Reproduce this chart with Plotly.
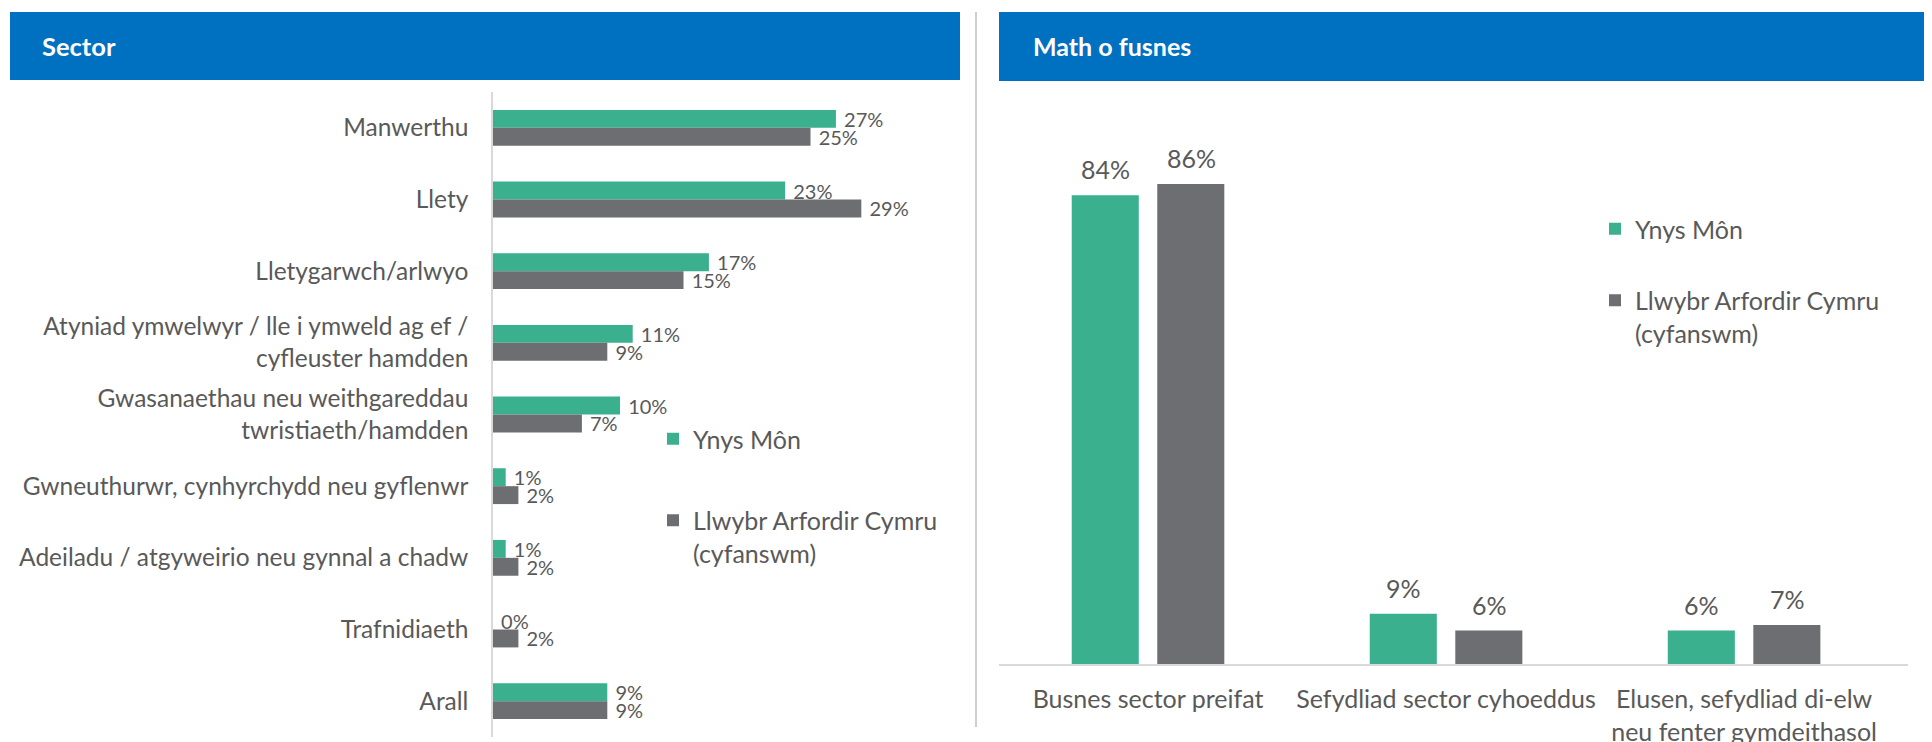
import plotly.graph_objects as go

# ---------------- data ----------------
sector_labels = [
    "Manwerthu",
    "Llety",
    "Lletygarwch/arlwyo",
    "Atyniad ymwelwyr / lle i ymweld ag ef /<br>cyfleuster hamdden",
    "Gwasanaethau neu weithgareddau<br>twristiaeth/hamdden",
    "Gwneuthurwr, cynhyrchydd neu gyflenwr",
    "Adeiladu / atgyweirio neu gynnal a chadw",
    "Trafnidiaeth",
    "Arall",
]
sector_ynys_mon = [27, 23, 17, 11, 10, 1, 1, 0, 9]
sector_wales = [25, 29, 15, 9, 7, 2, 2, 2, 9]

business_labels = [
    "Busnes sector preifat",
    "Sefydliad sector cyhoeddus",
    "Elusen, sefydliad di-elw<br>neu fenter gymdeithasol",
]
business_ynys_mon = [84, 9, 6]
business_wales = [86, 6, 7]

series_names = ["Ynys Môn", "Llwybr Arfordir Cymru<br>(cyfanswm)"]
panel_titles = ["Sector", "Math o fusnes"]

# ---------------- style ----------------
W, H = 1932, 742
OFF = 8  # page body margin
GREEN = "#3AB08E"
GREY = "#6D6E71"
TEXT = "#595959"
BLUE = "#0070C0"
FONT = "Lato"

def px(x):
    return (x - OFF) / W

def py(y):
    return 1 - (y - OFF) / H

fig = go.Figure()

# left chart (horizontal bars): bar thickness / offset in category units
for name, vals, col, grp, off in [(series_names[0], sector_ynys_mon, GREEN, "a", -0.25),
                                  (series_names[1], sector_wales, GREY, "b", 0.0)]:
    fig.add_trace(go.Bar(
        y=sector_labels, x=vals, orientation="h", name=name,
        width=0.25, offset=off,
        marker=dict(color=col, line=dict(width=0)),
        texttemplate="\u00a0%{x}%", textposition="outside", constraintext="none",
        textfont=dict(family=FONT, size=20, color=TEXT), cliponaxis=False,
        xaxis="x", yaxis="y", legend="legend", legendgroup=grp,
    ))

# right chart (vertical bars)
for name, vals, col, grp in [(series_names[0], business_ynys_mon, GREEN, "c"),
                             (series_names[1], business_wales, GREY, "d")]:
    fig.add_trace(go.Bar(
        x=business_labels, y=vals, name=name,
        marker=dict(color=col, line=dict(width=0)),
        xaxis="x2", yaxis="y2", legend="legend2", legendgroup=grp,
    ))

# data labels of the right chart, placed above each bar
for vals, shift in [(business_ynys_mon, -43), (business_wales, 43)]:
    for cat, v in zip(business_labels, vals):
        fig.add_annotation(x=cat, y=v, xref="x2", yref="y2", text=f"{v}%",
                           showarrow=False, yanchor="bottom", xanchor="center",
                           xshift=shift, yshift=9,
                           font=dict(family=FONT, size=25, color=TEXT))

fig.update_layout(
    width=W, height=H, autosize=False,
    margin=dict(l=0, r=0, t=0, b=0, autoexpand=False),
    paper_bgcolor="white", plot_bgcolor="white",
    font=dict(family=FONT, color=TEXT, size=24),
    barmode="group",
    bargap=0.426, bargroupgap=0.216,
    xaxis=dict(domain=[px(493), px(960)], range=[0, 36.77], visible=False,
               fixedrange=True, automargin=False),
    yaxis=dict(domain=[py(737), py(92)], range=[8.5, -0.5], type="category",
               showline=True, linecolor="#D9D9D9", linewidth=1.5, automargin=False,
               showgrid=False, zeroline=False, ticks="", ticklabelstandoff=18,
               tickfont=dict(family=FONT, size=24.5, color=TEXT)),
    xaxis2=dict(domain=[px(999), px(1908)], range=[-0.5, 2.55], type="category",
                anchor="y2", showline=True, linecolor="#D9D9D9", linewidth=2,
                automargin=False,
                showgrid=False, ticks="", ticklabelstandoff=12,
                tickfont=dict(family=FONT, size=25, color=TEXT)),
    yaxis2=dict(domain=[py(664), py(106)], range=[0, 100], anchor="x2",
                visible=False, fixedrange=True, automargin=False),
    legend=dict(x=px(653), y=py(416), xanchor="left", yanchor="top",
                bgcolor="rgba(0,0,0,0)", font=dict(family=FONT, size=25, color=TEXT),
                traceorder="grouped", tracegroupgap=46, valign="top"),
    legend2=dict(x=px(1595), y=py(206), xanchor="left", yanchor="top",
                 bgcolor="rgba(0,0,0,0)", font=dict(family=FONT, size=25, color=TEXT),
                 traceorder="grouped", tracegroupgap=36, valign="top"),
    showlegend=True,
)

# headers
fig.add_shape(type="rect", xref="paper", yref="paper",
              x0=px(10), x1=px(960), y0=py(80), y1=py(12),
              fillcolor=BLUE, line=dict(width=0), layer="below")
fig.add_shape(type="rect", xref="paper", yref="paper",
              x0=px(999), x1=px(1945), y0=py(81), y1=py(12),
              fillcolor=BLUE, line=dict(width=0), layer="below")
fig.add_shape(type="line", xref="paper", yref="paper",
              x0=px(976), x1=px(976), y0=py(727), y1=py(12),
              line=dict(color="#BFBFBF", width=1.5))
fig.add_annotation(text="<b>" + panel_titles[0] + "</b>", xref="paper", yref="paper",
                   x=px(40), y=py(46), xanchor="left", yanchor="middle", showarrow=False,
                   font=dict(family=FONT, size=25.5, color="white"))
fig.add_annotation(text="<b>" + panel_titles[1] + "</b>", xref="paper", yref="paper",
                   x=px(1031), y=py(46), xanchor="left", yanchor="middle", showarrow=False,
                   font=dict(family=FONT, size=25, color="white"))

fig.write_html("out.html")
